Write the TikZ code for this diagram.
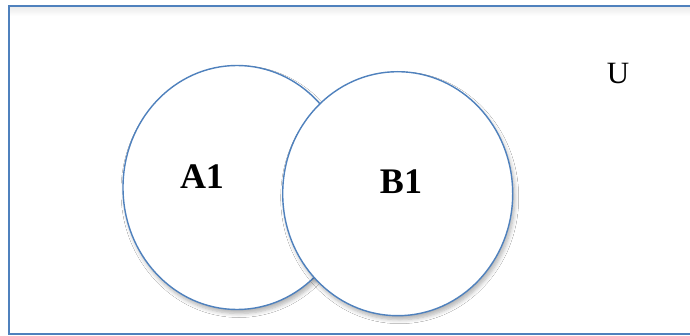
\documentclass[tikz,border=0pt]{standalone}
\usepackage{fontspec}
\setmainfont{Liberation Serif}
\usetikzlibrary{shapes.geometric,shadows.blur}
\definecolor{officeblue}{HTML}{4F81BD}
\tikzset{
  setshape/.style={ellipse, draw=officeblue, line width=1.4pt, fill=white, inner sep=0pt,
    blur shadow={shadow xshift=2pt, shadow yshift=-4pt, shadow blur steps=6, shadow opacity=30, shadow blur radius=4pt}},
  setlabel/.style={font=\fontsize{36}{40}\selectfont\bfseries, inner sep=0pt},
  frame/.style={draw=officeblue, line width=1.3pt}
}
\begin{document}
\begin{tikzpicture}[x=1pt,y=-1pt]
\useasboundingbox (0,0) rectangle (690,336);
\fill[white] (0,0) rectangle (690,336);
\shade[top color=black!8, bottom color=white] (9.5,6.5) rectangle (690,16);
\draw[frame] (9,6) rectangle (695,334);
\node[setshape, minimum width=228pt, minimum height=244pt] (A) at (237,187.5) {};
\node[setshape, minimum width=230pt, minimum height=244pt] (B) at (397.7,193.7) {};
\node[setlabel] (A1) at (202,177) {A1};
\node[setlabel] (B1) at (401,181.5) {B1};
\node[font=\fontsize{31}{34}\selectfont, inner sep=0pt] (U) at (618,74) {U};
\end{tikzpicture}
\end{document}
